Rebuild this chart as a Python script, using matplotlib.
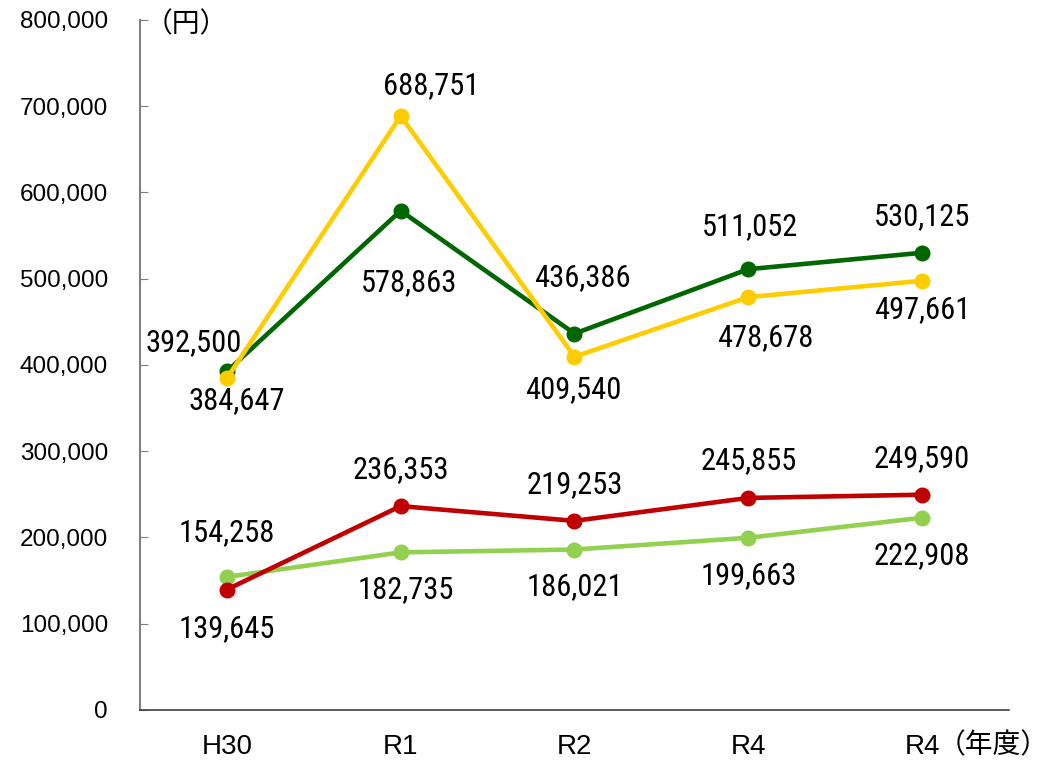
import matplotlib
matplotlib.use("Agg")
import matplotlib.pyplot as plt
from matplotlib import font_manager
from matplotlib.ticker import FuncFormatter

plt.rcParams['font.family'] = ['Liberation Sans', 'Noto Sans CJK JP']

years = ['H30', 'R1', 'R2', 'R4', 'R4']
dark_green = [392500, 578863, 436386, 511052, 530125]
yellow = [384647, 688751, 409540, 478678, 497661]
light_green = [154258, 182735, 186021, 199663, 222908]
red = [139645, 236353, 219253, 245855, 249590]

# label offsets (points) for each point
off_dg = [(-24, 21), (6, -52), (6, 40), (1, 31), (0, 26)]
off_y = [(7, -16), (22, 22), (-1, -24), (12, -29), (0, -21)]
off_lg = [(0, 32), (4, -27), (0, -27), (0, -27), (0, -27)]
off_r = [(0, -28), (0, 26), (0, 26), (0, 27), (0, 26)]

# pick a narrow font for the value labels if one is installed
fonts = font_manager.fontManager.ttflist
names = {f.name for f in fonts}
lab_font = dict(family='Liberation Sans', fontsize=20)
for nm in ['Liberation Sans Narrow', 'Roboto Condensed', 'Open Sans Condensed']:
    if nm in names:
        lab_font = dict(family=nm, fontsize=22)
        break
else:
    if any(f.name == 'Roboto' and f.stretch == 'condensed' for f in fonts):
        lab_font = dict(family='Roboto', fontstretch='condensed', fontsize=22)
    elif any(f.name == 'DejaVu Sans' and f.stretch == 'condensed' for f in fonts):
        lab_font = dict(family='DejaVu Sans', fontstretch='condensed', fontsize=20)

fig = plt.figure(figsize=(10.58, 7.63), dpi=100)
ax = fig.add_axes([0.1323, 0.0695, 0.8214, 0.9043])

x = list(range(len(years)))
series = [(dark_green, '#006600', off_dg),
          (yellow, '#FFCC00', off_y),
          (light_green, '#92D050', off_lg),
          (red, '#C00000', off_r)]

for vals, col, offs in series:
    ax.plot(x, vals, color=col, lw=3.3, marker='o', ms=10.5)
    for xi, v, o in zip(x, vals, offs):
        ax.annotate(f'{v:,}', (xi, v), xytext=o, textcoords='offset points',
                    ha='center', va='center', **lab_font)

ax.set_xlim(-0.5, 4.5)
ax.set_ylim(0, 800000)
ax.set_yticks(range(0, 800001, 100000))
ax.yaxis.set_major_formatter(FuncFormatter(lambda v, p: f'{int(v):,}'))
ax.set_xticks(x)
ax.set_xticklabels(years)
ax.tick_params(axis='x', length=0, labelsize=20, pad=17)
ax.tick_params(axis='y', direction='in', length=6, color='#808080', labelsize=17.5, pad=23)

ax.spines['top'].set_visible(False)
ax.spines['right'].set_visible(False)
ax.spines['left'].set_color('#808080')
ax.spines['left'].set_linewidth(1.5)
ax.spines['bottom'].set_color('#404040')
ax.spines['bottom'].set_linewidth(1.2)

ax.text(0.005, 0.993, '（円）', transform=ax.transAxes, fontsize=20, ha='left', va='center')
ax.annotate('（年度）', xy=(4, 0), xycoords=('data', 'axes fraction'),
            xytext=(11, -26), textcoords='offset points',
            fontsize=20, ha='left', va='center')

fig.savefig('out.png', dpi=100)
